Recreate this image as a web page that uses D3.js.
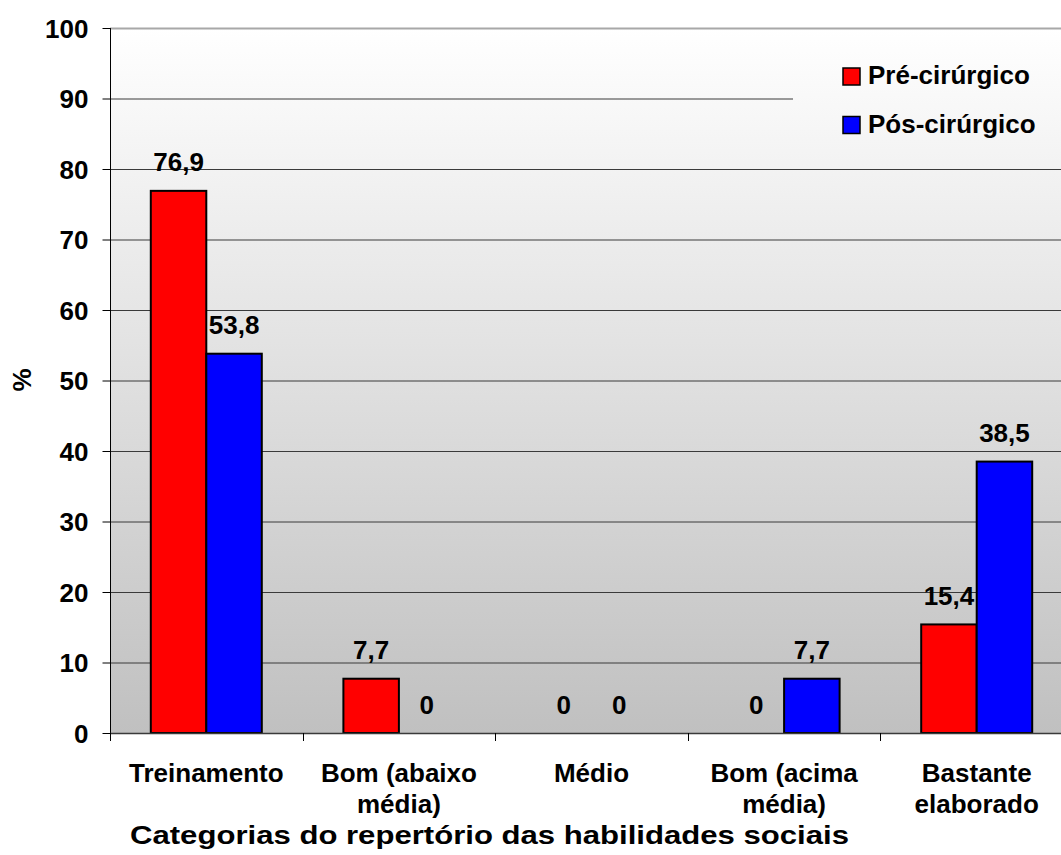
<!DOCTYPE html>
<html>
<head>
<meta charset="utf-8">
<script src="https://cdn.jsdelivr.net/npm/d3@7"></script>
<style>
  html, body { margin: 0; padding: 0; background: #ffffff; }
  svg { display: block; }
  text { font-family: "Liberation Sans", Arial, sans-serif; font-weight: bold; fill: #000; }
</style>
</head>
<body>
<svg id="chart" width="1061" height="855"></svg>
<script>
// Categories of the social-skills repertoire and the two measurement moments
const categories = ["Treinamento", "Bom (abaixo média)", "Médio", "Bom (acima média)", "Bastante elaborado"];
const categoryLines = [["Treinamento"], ["Bom (abaixo", "média)"], ["Médio"], ["Bom (acima", "média)"], ["Bastante", "elaborado"]];
const seriesNames = ["Pré-cirúrgico", "Pós-cirúrgico"];
const preValues = [76.9, 7.7, 0, 0, 15.4];
const posValues = [53.8, 0, 0, 7.7, 38.5];
const seriesColors = ["#ff0000", "#0000ff"];
const yTicks = [0, 10, 20, 30, 40, 50, 60, 70, 80, 90, 100];

const fmt = v => String(v).replace(".", ",");
const FS = 26;

const svg = d3.select("#chart");
const plot = { left: 110, top: 28, right: 1073, bottom: 733 };

const x = d3.scaleBand().domain(categories).range([plot.left, plot.right]).paddingInner(0).paddingOuter(0);
const xs = d3.scaleBand().domain(seriesNames).range([0, x.bandwidth()]).paddingInner(0).paddingOuter(0.735);
const y = d3.scaleLinear().domain([0, 100]).range([plot.bottom, plot.top]);

// Plot area background: vertical gradient from white to gray
const defs = svg.append("defs");
const grad = defs.append("linearGradient")
  .attr("id", "bg").attr("gradientUnits", "userSpaceOnUse")
  .attr("x1", 0).attr("y1", plot.top).attr("x2", 0).attr("y2", plot.bottom);
grad.append("stop").attr("offset", "0%").attr("stop-color", "#ffffff");
grad.append("stop").attr("offset", "100%").attr("stop-color", "#c0c0c0");

svg.append("rect")
  .attr("x", plot.left).attr("y", plot.top)
  .attr("width", plot.right - plot.left).attr("height", plot.bottom - plot.top)
  .attr("fill", "url(#bg)");

// Horizontal gridlines
svg.append("g").selectAll("line")
  .data(yTicks.filter(t => t > 0))
  .join("line")
  .attr("x1", plot.left).attr("x2", plot.right)
  .attr("y1", d => y(d) + 0.5).attr("y2", d => y(d) + 0.5)
  .attr("stroke", d => d === 100 ? "#a8a8a8" : "#3a3a3a")
  .attr("stroke-width", d => d === 100 ? 2 : 1);

// Legend box (covers the gridline behind it)
const legend = svg.append("g");
legend.append("rect")
  .attr("x", 793).attr("y", 42).attr("width", 300).attr("height", 118)
  .attr("fill", "url(#bg)");
seriesNames.forEach((name, i) => {
  const ly = 68 + i * 48.5;
  legend.append("rect")
    .attr("x", 843).attr("y", ly).attr("width", 17).attr("height", 17)
    .attr("fill", seriesColors[i]).attr("stroke", "#000").attr("stroke-width", 1.5);
  legend.append("text")
    .attr("x", 868).attr("y", ly + 16)
    .attr("font-size", FS).text(name);
});

// Bars
const seriesData = [preValues, posValues];
const barsG = svg.append("g");
seriesData.forEach((vals, si) => {
  barsG.selectAll(null)
    .data(vals.map((v, i) => ({ cat: categories[i], v })))
    .join("rect")
    .filter(d => d.v > 0)
    .attr("x", d => x(d.cat) + xs(seriesNames[si]))
    .attr("y", d => y(d.v))
    .attr("width", xs.bandwidth())
    .attr("height", d => y(0) - y(d.v))
    .attr("fill", seriesColors[si])
    .attr("stroke", "#000").attr("stroke-width", 2);
});

// Value labels
seriesData.forEach((vals, si) => {
  svg.append("g").selectAll("text")
    .data(vals.map((v, i) => ({ cat: categories[i], v })))
    .join("text")
    .attr("x", d => x(d.cat) + xs(seriesNames[si]) + xs.bandwidth() / 2)
    .attr("y", d => y(d.v) - 19.5)
    .attr("text-anchor", "middle")
    .attr("font-size", FS)
    .text(d => fmt(d.v));
});

// Y axis
const yAxis = d3.axisLeft(y).tickValues(yTicks).tickSize(8).tickPadding(14).tickFormat(d3.format("d"));
const yg = svg.append("g").attr("transform", `translate(${plot.left + 0.5},0)`).call(yAxis);
yg.select(".domain").remove();
yg.selectAll(".tick line").attr("stroke", "#000");
yg.selectAll(".tick text").attr("font-size", FS).attr("font-family", "Liberation Sans, Arial, sans-serif").attr("font-weight", "bold").attr("dy", "0.35em");
svg.append("line")
  .attr("x1", plot.left + 0.5).attr("x2", plot.left + 0.5)
  .attr("y1", plot.top).attr("y2", plot.bottom + 8)
  .attr("stroke", "#000");

// X axis line and category-boundary ticks
svg.append("line")
  .attr("x1", plot.left).attr("x2", plot.right)
  .attr("y1", plot.bottom + 0.5).attr("y2", plot.bottom + 0.5)
  .attr("stroke", "#3a3a3a").attr("stroke-width", 1.5);
svg.append("g").selectAll("line")
  .data(categories)
  .join("line")
  .attr("x1", d => Math.round(x(d)) + 0.5).attr("x2", d => Math.round(x(d)) + 0.5)
  .attr("y1", plot.bottom).attr("y2", plot.bottom + 8)
  .attr("stroke", "#000");

// Category labels
const xl = svg.append("g");
categories.forEach((c, i) => {
  const cx = x(c) + x.bandwidth() / 2;
  const t = xl.append("text")
    .attr("x", cx).attr("y", 782)
    .attr("text-anchor", "middle")
    .attr("font-size", FS);
  categoryLines[i].forEach((line, li) => {
    t.append("tspan").attr("x", cx).attr("y", 782 + li * 31).text(line);
  });
});

// Axis titles
svg.append("text")
  .attr("x", 130).attr("y", 844)
  .attr("font-size", FS)
  .attr("textLength", 719).attr("lengthAdjust", "spacingAndGlyphs")
  .text("Categorias do repertório das habilidades sociais");
svg.append("text")
  .attr("transform", "translate(31,380) rotate(-90)")
  .attr("text-anchor", "middle").attr("font-size", FS)
  .text("%");
</script>
</body>
</html>
